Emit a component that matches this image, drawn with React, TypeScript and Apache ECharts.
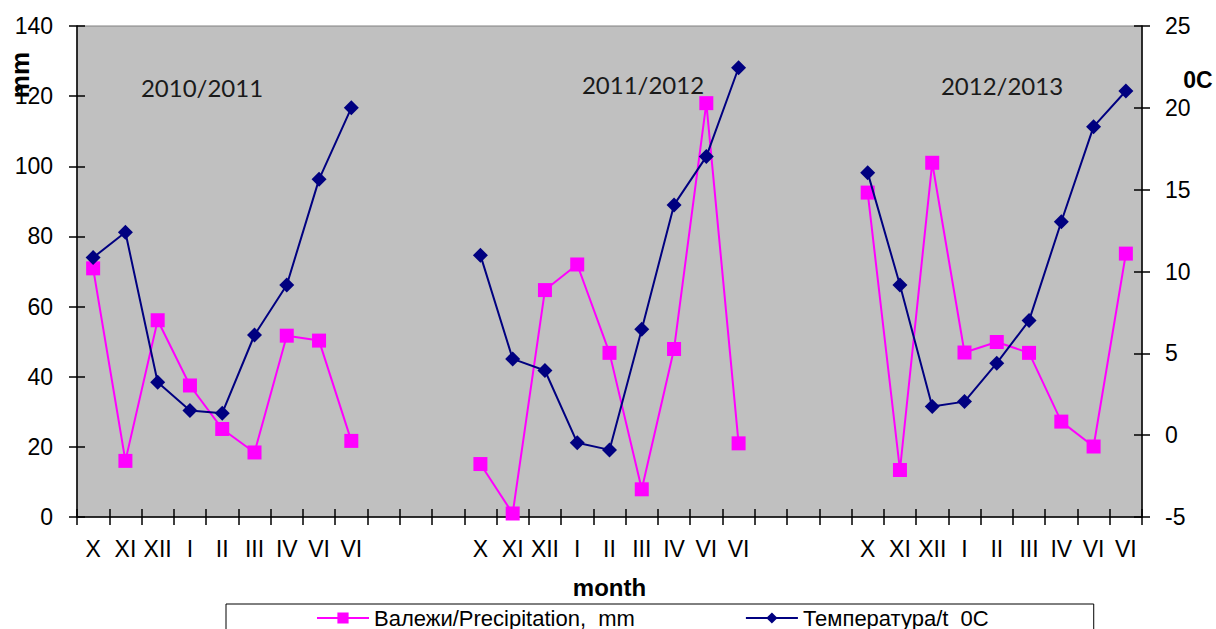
import React, { useEffect, useRef } from "react";
import * as echarts from "echarts";

const months = ["X", "XI", "XII", "I", "II", "III", "IV", "VI", "VI"];
const gapLabels = ["", "", ""];
const gapValues = [null, null, null];
const seasons = ["2010/2011", "2011/2012", "2012/2013"];

const precip1011 = [70.9, 16, 56.1, 37.5, 25.1, 18.4, 51.7, 50.3, 21.7];
const precip1112 = [15.1, 1.0, 64.7, 72, 46.8, 7.9, 47.9, 118, 21];
const precip1213 = [92.5, 13.4, 101, 46.9, 49.9, 46.8, 27.2, 20.1, 75.1];

const temp1011 = [10.85, 12.4, 3.23, 1.5, 1.34, 6.12, 9.18, 15.63, 20.0];
const temp1112 = [11.0, 4.66, 3.95, -0.46, -0.9, 6.47, 14.07, 17.02, 22.45];
const temp1213 = [16.04, 9.18, 1.75, 2.05, 4.4, 7.0, 13.04, 18.85, 21.03];

const leftMin = 0, leftMax = 140, leftStep = 20;
const rightMin = -5, rightMax = 25, rightStep = 5;

const precipName = "Валежи/Precipitation,\u00A0 mm";
const tempName = "Температура/t\u00A0 0C";

const categories = [...months, ...gapLabels, ...months, ...gapLabels, ...months];
const precipData = [...precip1011, ...gapValues, ...precip1112, ...gapValues, ...precip1213];
const tempData = [...temp1011, ...gapValues, ...temp1112, ...gapValues, ...temp1213];

const FONT = "'Liberation Sans', Arial, sans-serif";

export default function App() {
  const ref = useRef<HTMLDivElement>(null);
  useEffect(() => {
    if (!ref.current) return;
    const chart = echarts.init(ref.current, null, { renderer: "svg" });
    const grid = { left: 77, right: 74, top: 26, bottom: 112 };
    const yBase = (pos: string, min: number, max: number, step: number) => ({
      type: "value",
      position: pos,
      min,
      max,
      interval: step,
      splitLine: { show: false },
    });
    chart.setOption({
      animation: false,
      backgroundColor: "#ffffff",
      grid: {
        ...grid,
        show: true,
        backgroundColor: "#C0C0C0",
        borderColor: "#808080",
        borderWidth: 1,
      },
      xAxis: [
        {
          type: "category",
          data: categories,
          boundaryGap: true,
          axisLine: { show: true, onZero: false, lineStyle: { color: "#000", width: 1.5 } },
          axisTick: { show: true, inside: false, length: 8, interval: 0, lineStyle: { color: "#000", width: 1.5 } },
          axisLabel: { interval: 0, color: "#000", fontSize: 23, fontFamily: FONT, margin: 20 },
          name: "month",
          nameLocation: "middle",
          nameGap: 58,
          nameTextStyle: { color: "#000", fontSize: 24, fontWeight: "bold", fontFamily: FONT },
        },
        {
          type: "category",
          data: categories,
          position: "bottom",
          boundaryGap: true,
          axisLine: { show: false, onZero: false },
          axisTick: { show: true, inside: true, length: 8, interval: 0, lineStyle: { color: "#000", width: 1.5 } },
          axisLabel: { show: false },
        },
      ],
      yAxis: [
        {
          ...yBase("left", leftMin, leftMax, leftStep),
          axisLine: { show: true, lineStyle: { color: "#000", width: 1.5 } },
          axisTick: { show: true, inside: false, length: 8, lineStyle: { color: "#000", width: 1.5 } },
          axisLabel: { color: "#000", fontSize: 23, fontFamily: FONT, margin: 24 },
        },
        {
          ...yBase("right", rightMin, rightMax, rightStep),
          axisLine: { show: true, lineStyle: { color: "#000", width: 1.5 } },
          axisTick: { show: true, inside: false, length: 8, lineStyle: { color: "#000", width: 1.5 } },
          axisLabel: { color: "#000", fontSize: 23, fontFamily: FONT, margin: 23 },
        },
        {
          ...yBase("left", leftMin, leftMax, leftStep),
          axisLine: { show: false },
          axisTick: { show: true, inside: true, length: 8, lineStyle: { color: "#000", width: 1.5 } },
          axisLabel: { show: false },
        },
        {
          ...yBase("right", rightMin, rightMax, rightStep),
          axisLine: { show: false },
          axisTick: { show: true, inside: true, length: 8, lineStyle: { color: "#000", width: 1.5 } },
          axisLabel: { show: false },
        },
      ],
      legend: {
        left: 226,
        top: 604,
        padding: [3, 105, 8, 90],
        itemGap: 110,
        itemWidth: 52,
        itemHeight: 14,
        backgroundColor: "#fff",
        borderColor: "#000",
        borderWidth: 1,
        borderRadius: 0,
        textStyle: { color: "#000", fontSize: 22, fontFamily: FONT },
        data: [precipName, tempName],
      },
      graphic: [
        {
          type: "text",
          x: 20,
          y: 75,
          rotation: Math.PI / 2,
          style: {
            text: "mm",
            fill: "#000",
            font: `bold 26px ${FONT}`,
            align: "center",
            verticalAlign: "middle",
          },
        },
        {
          type: "text",
          x: 1198,
          y: 80,
          style: {
            text: "0C",
            fill: "#000",
            font: `bold 23px ${FONT}`,
            align: "center",
            verticalAlign: "middle",
          },
        },
        ...seasons.map((s, i) => ({
          type: "text",
          x: [202, 643, 1002][i],
          y: [87, 84, 85][i],
          style: {
            text: s,
            fill: "#1a1a1a",
            font: "24px Lato, 'Open Sans', sans-serif",
            align: "center",
            verticalAlign: "middle",
          },
        })),
      ],
      series: [
        {
          name: precipName,
          type: "line",
          xAxisIndex: 0,
          yAxisIndex: 0,
          data: precipData,
          connectNulls: false,
          symbol: "rect",
          symbolSize: 14,
          lineStyle: { color: "#FF00FF", width: 2 },
          itemStyle: { color: "#FF00FF" },
          z: 3,
        },
        {
          name: tempName,
          type: "line",
          xAxisIndex: 0,
          yAxisIndex: 1,
          data: tempData,
          connectNulls: false,
          symbol: "diamond",
          symbolSize: 15,
          lineStyle: { color: "#000080", width: 2 },
          itemStyle: { color: "#000080" },
          z: 4,
        },
      ],
    });
    return () => chart.dispose();
  }, []);
  return (
    <div
      ref={ref}
      style={{ position: "fixed", left: 0, top: 0, width: 1216, height: 629 }}
    />
  );
}
